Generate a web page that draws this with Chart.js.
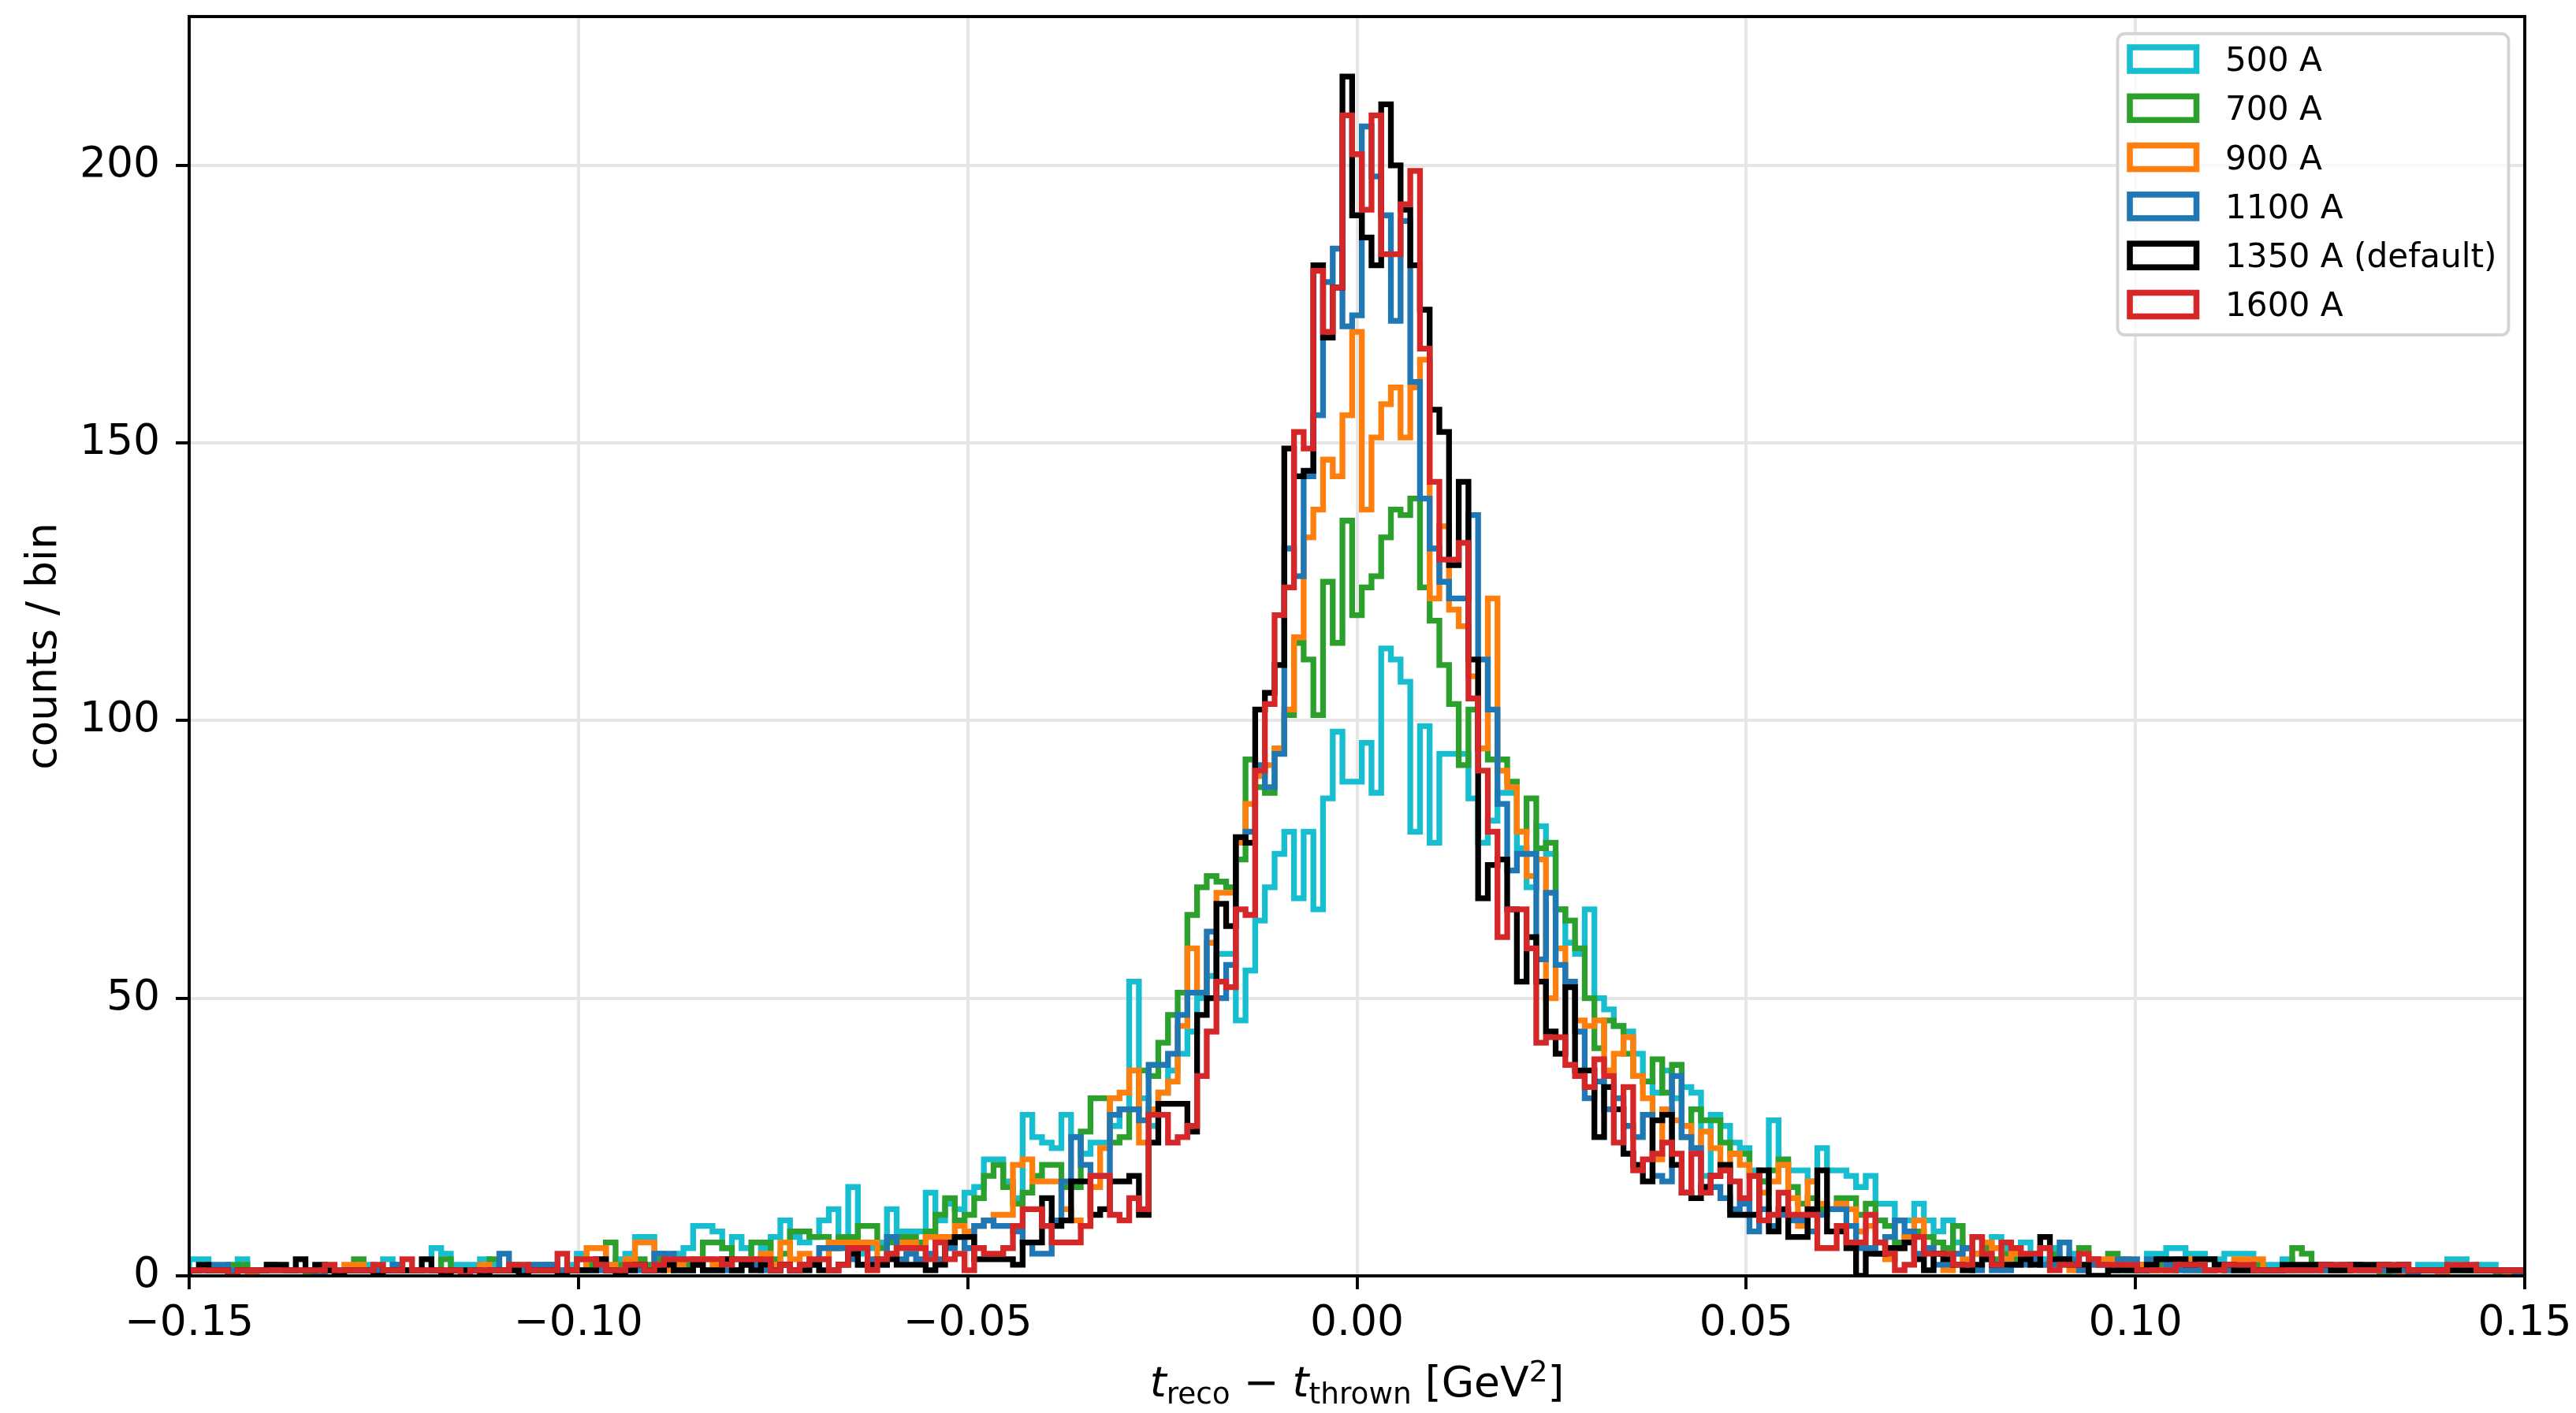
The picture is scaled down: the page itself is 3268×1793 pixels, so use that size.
<!DOCTYPE html>
<html>
<head>
<meta charset="utf-8">
<script src="https://cdn.jsdelivr.net/npm/chart.js@4.4.1/dist/chart.umd.min.js"></script>
<style>
  html, body { margin: 0; padding: 0; background: #fff; }
  #wrap { position: relative; width: 3268px; height: 1793px; overflow: hidden; background: #fff; }
  #xlabel {
    position: absolute; left: 240px; width: 2963px; top: 1727px;
    text-align: center; font-family: "DejaVu Sans"; font-size: 53.5px; line-height: 53.5px; color: #000;
  }
  #xlabel sub { font-size: 70%; line-height: 0; vertical-align: -0.25em; }
  #xlabel sup { font-size: 70%; line-height: 0; vertical-align: 0.5em; }
</style>
</head>
<body>
<div id="wrap">
  <canvas id="c" width="3268" height="1793"></canvas>
  <div id="xlabel"><i>t</i><sub>reco</sub> − <i>t</i><sub>thrown</sub> [GeV<sup>2</sup>]</div>
</div>
<script>
// histogram binning
const binLo = -0.15, binHi = 0.15, nBins = 241;

const seriesLabels = ['500 A', '700 A', '900 A', '1100 A', '1350 A (default)', '1600 A'];
const seriesColors = ['#17becf', '#2ca02c', '#ff7f0e', '#1f77b4', '#000000', '#d62728'];

const xTickValues = [-0.15, -0.10, -0.05, 0, 0.05, 0.10, 0.15];
const xTickLabels = ['−0.15', '−0.10', '−0.05', '0.00', '0.05', '0.10', '0.15'];
const yTickValues = [0, 50, 100, 150, 200];
const yTickLabels = ['0', '50', '100', '150', '200'];

// counts per bin
const counts500 = [
  3,3,1,1,1,3,1,1,2,1, 1,1,1,1,1,1,1,1,2,1, 3,2,1,1,1,5,4,2,2,2, 3,2,1,2,1,1,2,1,1,2,
  4,2,2,2,3,4,7,7,4,2, 4,5,9,9,8,5,7,5,3,5, 7,10,7,6,7,10,12,7,16,4, 5,6,12,8,8,8,15,10,13,12,
  15,16,21,21,17,14,29,25,24,23, 29,25,22,24,24,27,30,53,32,27, 33,37,40,44,50,54,58,58,46,55,
  64,70,76,80,68,80,66,86,98,89, 89,96,87,113,111,107,80,99,78,94, 94,94,86,78,82,87,87,77,70,81,
  76,66,60,58,66,50,48,45,44,40, 35,33,37,32,34,33,18,29,27,24, 23,19,17,28,20,19,19,17,23,19,
  19,18,16,18,13,13,10,10,13,10, 8,10,6,5,7,6,7,5,4,6, 4,3,5,3,4,2,3,2,3,1,
  2,1,4,4,5,5,4,4,3,3, 4,4,4,2,2,2,3,1,1,2, 1,1,1,2,1,1,1,0,1,1, 2,2,2,3,3,1,2,2,1,1,
  1
];
const counts700 = [
  1,1,1,1,2,2,1,1,1,1, 1,1,0,1,1,1,1,3,1,1, 1,1,1,1,1,1,3,1,1,1, 1,3,1,1,1,1,1,2,1,1,
  3,2,2,6,2,2,3,2,3,2, 3,2,3,6,6,5,3,3,6,6, 3,4,8,8,7,7,5,7,7,9, 9,5,6,7,7,6,8,11,14,10,
  11,14,18,20,16,13,15,18,20,20, 16,16,26,32,32,24,25,30,37,36, 42,47,51,65,70,72,71,70,75,93,
  88,87,95,101,114,111,101,125,114,136, 119,124,126,133,138,137,140,124,118,110, 103,92,102,95,93,93,89,80,86,77,
  78,66,64,59,50,41,46,45,40,36, 35,39,33,38,25,30,28,28,24,22, 22,18,17,19,21,16,13,14,12,12,
  14,14,11,13,10,9,6,7,8,7, 6,5,9,5,4,5,3,4,3,3, 3,2,4,2,2,5,3,2,4,2,
  1,2,1,2,1,2,1,1,1,2, 1,1,1,2,1,1,1,5,4,2, 1,1,1,1,1,1,0,1,1,1, 1,1,1,1,1,1,1,1,0,1,
  1
];
const counts900 = [
  1,1,1,1,1,1,0,1,1,1, 1,1,1,1,1,1,2,2,1,1, 1,1,1,1,1,1,1,1,1,1, 2,1,1,1,1,1,1,1,1,1,
  1,5,5,2,1,3,6,6,2,1, 2,1,2,3,2,3,1,2,3,4, 2,6,3,4,2,3,6,6,6,6, 6,3,4,6,6,5,7,7,7,9,
  8,9,10,11,11,20,21,17,17,17, 12,10,9,16,23,32,33,37,24,30, 33,35,45,59,51,60,69,69,78,85,
  90,92,95,102,115,133,138,147,144,155, 170,138,151,157,160,151,160,165,122,135, 120,117,108,95,122,91,88,80,72,75,
  50,59,52,46,45,46,37,40,43,36, 32,21,30,28,27,23,26,23,19,22, 20,18,15,17,20,14,9,17,13,12,
  13,12,8,9,6,3,5,7,10,5, 4,1,4,3,4,6,5,3,4,3, 3,2,2,3,1,1,2,3,3,3,
  2,2,2,1,2,3,3,1,1,2, 1,3,3,3,1,1,1,1,1,1, 1,1,1,1,1,1,1,1,0,1, 1,1,0,1,1,1,1,1,1,0,
  1
];
const counts1100 = [
  1,1,2,2,1,1,1,1,1,1, 1,1,1,0,1,1,1,1,1,1, 1,2,1,1,1,1,1,1,1,1, 1,1,4,1,1,2,2,2,1,1,
  1,1,1,1,1,1,1,1,4,4, 1,1,2,1,1,1,1,2,2,1, 1,2,1,2,2,5,5,5,3,2, 3,2,7,3,4,3,4,3,5,7,
  5,9,10,9,9,8,6,4,4,10, 17,25,20,18,18,29,30,30,28,38, 38,40,47,51,51,62,50,56,79,80,
  92,88,94,131,126,144,155,179,185,171, 173,207,198,191,172,190,161,140,131,125, 122,122,137,111,102,85,73,76,76,57,
  69,56,53,44,32,35,30,32,27,25, 29,18,17,36,25,23,16,16,14,12, 13,8,12,9,11,10,10,8,11,12,
  12,9,5,5,4,7,10,8,4,5, 2,2,4,5,1,3,1,1,2,2, 3,2,2,6,3,1,2,2,1,3,
  3,1,3,3,2,1,1,1,1,2, 1,1,1,1,1,1,1,1,1,1, 1,1,2,2,1,1,1,1,1,0, 1,1,1,1,1,1,1,1,1,1,
  0
];
const counts1350 = [
  1,2,1,1,0,1,1,1,2,2, 1,3,1,2,1,0,1,1,1,0, 1,1,1,1,3,1,0,1,1,1, 0,1,1,1,0,1,1,1,0,1,
  1,1,3,1,0,1,2,1,1,2, 1,1,2,1,1,3,1,2,1,2, 1,2,1,1,2,1,1,2,4,2, 2,2,3,2,2,2,1,2,6,7,
  7,3,3,3,3,2,6,6,14,9, 10,17,17,11,12,17,17,18,11,24, 31,31,31,26,47,50,67,63,79,78,
  102,105,110,149,144,145,182,169,178,216, 191,187,182,211,200,192,182,174,156,152, 128,143,111,68,74,75,66,53,61,53,
  44,40,52,37,37,25,34,30,22,20, 17,28,29,20,15,14,16,18,20,11, 11,11,19,8,12,7,7,12,19,8,
  8,5,0,4,4,5,5,6,3,1, 4,3,2,1,2,3,2,2,2,3, 2,7,3,3,2,2,0,0,1,1,
  1,1,2,3,3,3,2,3,3,2, 2,1,1,1,1,1,2,2,2,2, 2,1,1,2,2,2,2,1,2,1, 1,1,1,1,1,1,1,1,1,1,
  1
];
const counts1600 = [
  1,1,1,1,0,1,1,1,1,1, 1,1,1,1,2,1,1,1,1,2, 1,1,3,1,1,1,1,1,0,1, 1,1,1,2,2,1,1,1,4,1,
  3,3,2,1,1,2,2,1,2,3, 3,3,3,3,3,2,3,3,3,3, 1,2,1,2,3,3,1,2,5,5, 1,3,4,5,5,5,3,6,3,4,
  1,5,4,4,5,9,12,12,9,6, 6,6,9,18,18,11,10,14,12,29, 29,24,25,27,36,44,53,52,66,65,
  91,103,119,124,152,149,181,170,178,209, 202,192,209,184,184,193,199,167,143,129, 129,132,104,91,80,61,66,66,59,42,
  43,43,38,36,34,39,36,24,34,19, 21,22,24,22,15,22,15,18,19,17, 14,18,10,11,15,11,11,11,5,5,
  9,6,6,11,6,4,1,2,7,4, 4,4,2,2,7,4,2,6,5,4, 4,5,1,2,2,4,3,2,2,2,
  2,1,1,1,1,2,2,2,1,1, 2,2,2,1,1,1,1,1,1,1, 2,2,2,1,1,1,2,2,2,1, 1,1,1,2,2,2,1,1,1,1,
  1
];

const seriesCounts = [counts500, counts700, counts900, counts1100, counts1350, counts1600];

const edges = [];
for (let i = 0; i <= nBins; i++) edges.push(binLo + (binHi - binLo) * i / nBins);

// outline of a step histogram, like histtype='step'
function stepOutline(counts) {
  const pts = [{ x: edges[0], y: 0 }];
  counts.forEach((c, i) => pts.push({ x: edges[i], y: c }));
  pts.push({ x: edges[nBins], y: 0 });
  return pts;
}

const datasets = seriesCounts.map((counts, i) => ({
  label: seriesLabels[i],
  data: stepOutline(counts),
  borderColor: seriesColors[i],
  backgroundColor: 'transparent',
  borderWidth: 7.3,
  stepped: true,
  pointRadius: 0,
  fill: false,
  clip: 0,
  order: seriesCounts.length - i
}));

const FONT = 'DejaVu Sans';

// no extra room for the edge tick labels, the axes box is fixed
function noPad(s) {
  s.paddingTop = 0; s.paddingBottom = 0; s.paddingLeft = 0; s.paddingRight = 0;
}

// box around the axes and the legend in the upper right corner
const frameAndLegend = {
  id: 'frameAndLegend',
  afterDatasetsDraw(chart) {
    const { ctx, chartArea: a } = chart;
    ctx.save();
    ctx.strokeStyle = '#000';
    ctx.lineWidth = 3.9;
    ctx.strokeRect(a.left, a.top, a.right - a.left, a.bottom - a.top);

    const bx = 2686.5, by = 42.7, bw = 496, bh = 382.3, r = 9;
    ctx.beginPath();
    ctx.moveTo(bx + r, by);
    ctx.arcTo(bx + bw, by, bx + bw, by + bh, r);
    ctx.arcTo(bx + bw, by + bh, bx, by + bh, r);
    ctx.arcTo(bx, by + bh, bx, by, r);
    ctx.arcTo(bx, by, bx + bw, by, r);
    ctx.closePath();
    ctx.fillStyle = 'rgba(255,255,255,0.8)';
    ctx.fill();
    ctx.strokeStyle = '#d4d4d4';
    ctx.lineWidth = 3.9;
    ctx.stroke();

    ctx.font = '42.2px "' + FONT + '"';
    ctx.textBaseline = 'middle';
    ctx.textAlign = 'left';
    seriesLabels.forEach((lab, i) => {
      const cy = 75 + i * 62.3;
      ctx.strokeStyle = seriesColors[i];
      ctx.lineWidth = 7.6;
      ctx.strokeRect(2702, cy - 15, 84.5, 30);
      ctx.fillStyle = '#000';
      ctx.fillText(lab, 2823, cy + 4);
    });
    ctx.restore();
  }
};

new Chart(document.getElementById('c'), {
  type: 'line',
  data: { datasets },
  options: {
    responsive: false,
    animation: false,
    devicePixelRatio: 1,
    events: [],
    layout: { padding: { left: 0, right: 65, top: 21, bottom: 0 } },
    plugins: { legend: { display: false }, tooltip: { enabled: false } },
    scales: {
      x: {
        type: 'linear',
        min: binLo,
        max: binHi,
        afterBuildTicks: s => { s.ticks = xTickValues.map(v => ({ value: v })); },
        afterFit: s => { s.height = 174; noPad(s); },
        ticks: {
          callback: (v, i) => xTickLabels[i],
          font: { family: FONT, size: 53.5 },
          color: '#000',
          padding: 12,
          maxRotation: 0,
          autoSkip: false
        },
        grid: { color: '#e6e6e6', lineWidth: 3.9, tickColor: '#000', tickWidth: 3.9, tickLength: 17 },
        border: { display: false }
      },
      y: {
        min: 0,
        max: 226.8,
        afterBuildTicks: s => { s.ticks = yTickValues.map(v => ({ value: v })); },
        afterFit: s => { s.width = 240; noPad(s); },
        ticks: {
          callback: (v, i) => yTickLabels[i],
          font: { family: FONT, size: 53.5 },
          color: '#000',
          padding: 20,
          autoSkip: false
        },
        grid: { color: '#e6e6e6', lineWidth: 3.9, tickColor: '#000', tickWidth: 3.9, tickLength: 17 },
        border: { display: false },
        title: {
          display: true,
          text: 'counts / bin',
          color: '#000',
          font: { family: FONT, size: 53.5, lineHeight: 1 },
          padding: { top: 30, bottom: 0 }
        }
      }
    }
  },
  plugins: [frameAndLegend]
});
</script>
</body>
</html>
